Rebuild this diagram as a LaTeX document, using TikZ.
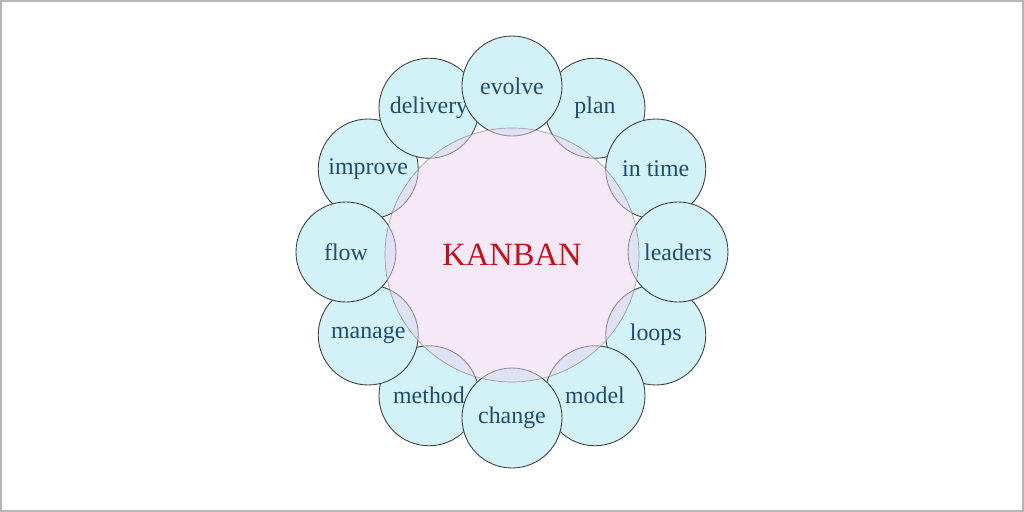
\documentclass[tikz,border=0pt]{standalone}
\usepackage{fontspec}
\setmainfont{Liberation Serif}
\definecolor{termfill}{RGB}{210,242,248}
\definecolor{hubfill}{RGB}{235,211,241}
\definecolor{termtext}{RGB}{32,76,114}
\definecolor{hubtext}{RGB}{196,16,26}
\definecolor{framegray}{RGB}{180,180,180}
\tikzset{
  term/.style={circle, draw=black!75, line width=0.5pt, fill=termfill,
    minimum size=2cm, inner sep=0pt, text=termtext,
    font=\fontsize{13.6}{16}\selectfont},
  hub/.style={circle, draw=black!50, draw opacity=0.7, fill=hubfill,
    fill opacity=0.5, text opacity=1, minimum size=5.08cm, inner sep=0pt,
    text=hubtext, font=\fontsize{18.5}{22}\selectfont}
}
\begin{document}
\begin{tikzpicture}
\useasboundingbox (-10.24,-5.2) rectangle (10.24,5.04);
\draw[framegray, line width=1.2pt] (-10.22,-5.18) rectangle (10.22,5.02);

% outer ring, diagonal ones first
\foreach \ang/\word in {60/plan, 30/in time, -30/loops, -60/model,
    -120/method, -150/manage, 150/improve, 120/delivery}
  \node[term] (t\ang) at (\ang:3.32) {\word};
% cardinal ones on top
\foreach \ang/\word in {90/evolve, 0/leaders, -90/change, 180/flow}
  \node[term] (t\ang) at (\ang:3.32) {\word};

% centre
\node[hub] (kanban) at (0,-0.06) {KANBAN};
\end{tikzpicture}
\end{document}
